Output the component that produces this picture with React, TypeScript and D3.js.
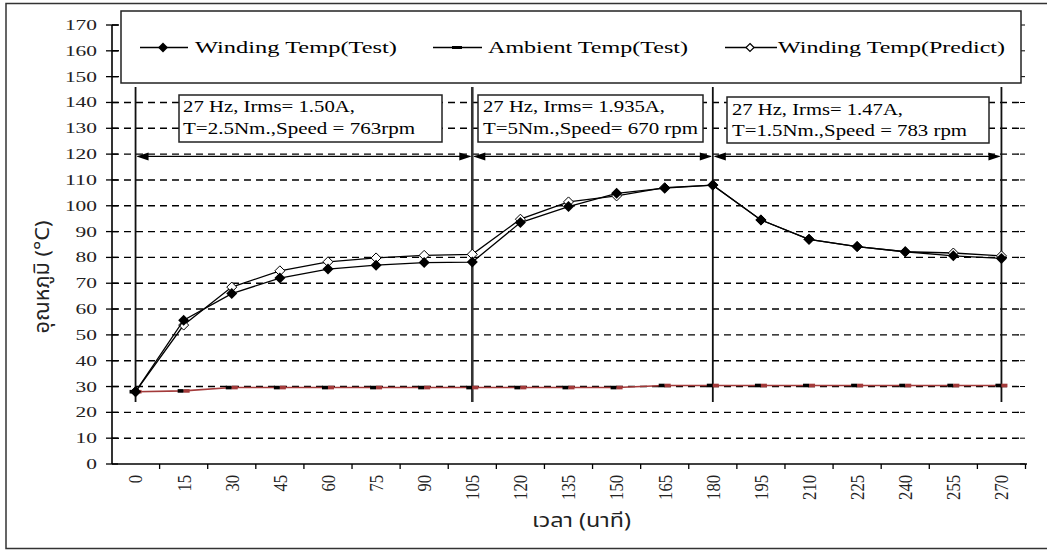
import React from "react";
import * as d3 from "d3";

const times = [0, 15, 30, 45, 60, 75, 90, 105, 120, 135, 150, 165, 180, 195, 210, 225, 240, 255, 270];
const windingTest = [28, 55.7, 66, 72, 75.5, 77, 78, 78.2, 93.5, 99.7, 104.8, 106.8, 108, 94.5, 87, 84.2, 82.2, 80.6, 79.6];
const windingPredict = [28, 53.8, 68.5, 74.8, 78.3, 79.8, 80.8, 81.2, 94.8, 101.5, 103.8, 107, 108, 94.5, 87, 84.2, 82.2, 81.7, 80.6];
const ambient = [28, 28.3, 29.6, 29.6, 29.6, 29.6, 29.6, 29.6, 29.6, 29.6, 29.6, 30.4, 30.4, 30.4, 30.4, 30.4, 30.4, 30.4, 30.4];
const yTicks = [0, 10, 20, 30, 40, 50, 60, 70, 80, 90, 100, 110, 120, 130, 140, 150, 160, 170];
const phaseBounds = [0, 105, 180, 270];
const legendLabels = ["Winding Temp(Test)", "Ambient Temp(Test)", "Winding Temp(Predict)"];
const annotations = [
  ["27 Hz, Irms= 1.50A,", "T=2.5Nm.,Speed = 763rpm"],
  ["27 Hz, Irms= 1.935A,", "T=5Nm.,Speed= 670 rpm"],
  ["27 Hz, Irms= 1.47A,", "T=1.5Nm.,Speed = 783 rpm"],
];
const yTitle = "อุณหภูมิ (°C)";
const xTitle = "เวลา (นาที)";

const SERIF = "'Liberation Serif', 'Times New Roman', serif";
const THAI = "Tahoma, 'Noto Sans Thai', 'Noto Sans', 'DejaVu Sans', sans-serif";

export default function App() {
  const W = 1047, H = 550;
  const x = d3.scaleBand<number>().domain(times).range([111.5, 1025.5]).paddingInner(0).paddingOuter(0);
  const cx = (t: number) => (x(t) as number) + x.bandwidth() / 2;
  const y = d3.scaleLinear().domain([0, 170]).range([464, 25]);
  const left = 112, right = 1023;

  const line = d3.line<number>().x((_, i) => cx(times[i])).y((v) => y(v));

  const diamond = (px: number, py: number, r: number) =>
    `M${px},${py - r}L${px + r},${py}L${px},${py + r}L${px - r},${py}Z`;

  const arrowY = y(120) + 2.3;
  const arrowHead = (tipX: number, dir: number) =>
    `M${tipX},${arrowY}L${tipX - dir * 12},${arrowY - 4}L${tipX - dir * 12},${arrowY + 4}Z`;

  const boxes = [
    { x0: 179, y0: 95, x1: 442, y1: 142, tx: 183, b1: 112, b2: 133.5, w1: 172, w2: 232 },
    { x0: 478, y0: 95, x1: 703, y1: 142, tx: 483, b1: 112, b2: 133.5, w1: 182, w2: 215 },
    { x0: 727, y0: 97, x1: 989, y1: 143, tx: 732, b1: 114.5, b2: 135.5, w1: 171, w2: 235 },
  ];

  const legY = 47.5;

  return (
    <svg width={W} height={H} style={{ position: "absolute", left: 0, top: 0, background: "#fff" }}>
      <rect x={0} y={0} width={W} height={H} fill="#fff" />
      {/* outer border */}
      <rect x={6} y={3.5} width={1060} height={545} fill="none" stroke="#333" strokeWidth={1.5} />

      {/* gridlines */}
      {yTicks.filter((v) => v > 0).map((v) => (
        <line key={"g" + v} x1={left} x2={right} y1={y(v)} y2={y(v)} stroke="#000" strokeWidth={1.4} strokeDasharray="7,5" />
      ))}
      {/* right side ticks */}
      {yTicks.map((v) => (
        <line key={"rt" + v} x1={1020} x2={1025} y1={y(v)} y2={y(v)} stroke="#000" strokeWidth={1} />
      ))}

      {/* phase vertical lines */}
      {phaseBounds.map((t) => (
        <line key={"v" + t} x1={cx(t)} x2={cx(t)} y1={y(146)} y2={y(24)} stroke={t === 105 ? "#333" : "#111"} strokeWidth={t === 105 ? 2.6 : 1.8} />
      ))}

      {/* arrows */}
      {phaseBounds.slice(0, -1).map((t, i) => {
        const a = cx(t), b = cx(phaseBounds[i + 1]);
        return (
          <g key={"a" + t}>
            <line x1={a + 2} x2={b - 2} y1={arrowY} y2={arrowY} stroke="#000" strokeWidth={1.3} />
            <path d={arrowHead(a + 1, -1)} fill="#000" />
            <path d={arrowHead(b - 1, 1)} fill="#000" />
          </g>
        );
      })}

      {/* annotation boxes */}
      {boxes.map((bx, i) => (
        <g key={"box" + i}>
          <rect x={bx.x0} y={bx.y0} width={bx.x1 - bx.x0} height={bx.y1 - bx.y0} fill="#fff" stroke="#222" strokeWidth={1.5} />
          <text x={bx.tx} y={bx.b1} fontFamily={SERIF} fontSize={16.5} textLength={bx.w1} lengthAdjust="spacingAndGlyphs" fill="#000">{annotations[i][0]}</text>
          <text x={bx.tx} y={bx.b2} fontFamily={SERIF} fontSize={16.5} textLength={bx.w2} lengthAdjust="spacingAndGlyphs" fill="#000">{annotations[i][1]}</text>
        </g>
      ))}

      {/* legend box */}
      <rect x={121} y={11} width={900} height={72} fill="#fff" stroke="#222" strokeWidth={1.5} />
      <line x1={140} x2={188} y1={legY} y2={legY} stroke="#000" strokeWidth={1.3} />
      <path d={diamond(163, legY, 5)} fill="#000" />
      <text x={195} y={53} fontFamily={SERIF} fontSize={17} textLength={202} lengthAdjust="spacingAndGlyphs">{legendLabels[0]}</text>
      <line x1={433} x2={482} y1={legY} y2={legY} stroke="#000" strokeWidth={1.3} />
      <rect x={452} y={legY - 1.5} width={10} height={3} fill="#000" />
      <text x={488} y={53} fontFamily={SERIF} fontSize={17} textLength={200} lengthAdjust="spacingAndGlyphs">{legendLabels[1]}</text>
      <line x1={725} x2={777} y1={legY} y2={legY} stroke="#000" strokeWidth={1.3} />
      <path d={diamond(750, legY, 4)} fill="#fff" stroke="#000" strokeWidth={1.2} />
      <text x={778} y={53} fontFamily={SERIF} fontSize={17} textLength={227} lengthAdjust="spacingAndGlyphs">{legendLabels[2]}</text>

      {/* data: predict */}
      <path d={line(windingPredict) || ""} fill="none" stroke="#000" strokeWidth={1.3} />
      {windingPredict.map((v, i) => (
        <path key={"p" + i} d={diamond(cx(times[i]), y(v), 5)} fill="#fff" stroke="#000" strokeWidth={1} />
      ))}
      {/* ambient */}
      <path d={line(ambient) || ""} fill="none" stroke="#a33a3a" strokeWidth={1.6} />
      {ambient.map((v, i) => (
        <g key={"am" + i}>
          <rect x={cx(times[i]) - 6} y={y(v) - 1.8} width={6} height={3.6} fill="#000" />
          <rect x={cx(times[i])} y={y(v) - 1.8} width={6} height={3.6} fill="#a33a3a" />
        </g>
      ))}
      {/* test */}
      <path d={line(windingTest) || ""} fill="none" stroke="#000" strokeWidth={1.3} />
      {windingTest.map((v, i) => (
        <path key={"t" + i} d={diamond(cx(times[i]), y(v), 5.5)} fill="#000" />
      ))}

      {/* y axis */}
      <line x1={left} x2={left} y1={y(170)} y2={y(0)} stroke="#000" strokeWidth={1.6} />
      {yTicks.map((v) => {
        const s = String(v);
        const w = s.length * 10.7;
        return (
          <g key={"yt" + v}>
            <line x1={106} x2={118} y1={y(v)} y2={y(v)} stroke="#000" strokeWidth={1.3} />
            <text x={97 - w} y={y(v) + 5} fontFamily={SERIF} fontSize={14.5} textLength={w} lengthAdjust="spacingAndGlyphs" fill="#222">{s}</text>
          </g>
        );
      })}

      {/* x axis */}
      <line x1={left} x2={1027} y1={y(0)} y2={y(0)} stroke="#000" strokeWidth={1.6} />
      {times.map((t) => (
        <line key={"xt" + t} x1={(x(t) as number) + x.bandwidth()} x2={(x(t) as number) + x.bandwidth()} y1={y(0)} y2={y(0) + 5} stroke="#000" strokeWidth={1.3} />
      ))}
      {times.map((t) => {
        const s = String(t);
        const w = s.length * 8.3;
        return (
          <text key={"xl" + t} transform={`translate(${cx(t)},475) rotate(-90) scale(1,1.15)`} x={-w} y={0} dy="0.35em" fontFamily={SERIF} fontSize={17} textLength={w} lengthAdjust="spacingAndGlyphs" fill="#222">{s}</text>
        );
      })}

      {/* axis titles */}
      <text transform={`translate(42,277) rotate(-90) scale(1,1.15)`} x={-56.5} y={0} dy="0.35em" fontFamily={THAI} fontSize={18} textLength={113} lengthAdjust="spacingAndGlyphs" fill="#222">{yTitle}</text>
      <text x={532} y={527} fontFamily={THAI} fontSize={19} textLength={99} lengthAdjust="spacingAndGlyphs" fill="#222">{xTitle}</text>
    </svg>
  );
}
